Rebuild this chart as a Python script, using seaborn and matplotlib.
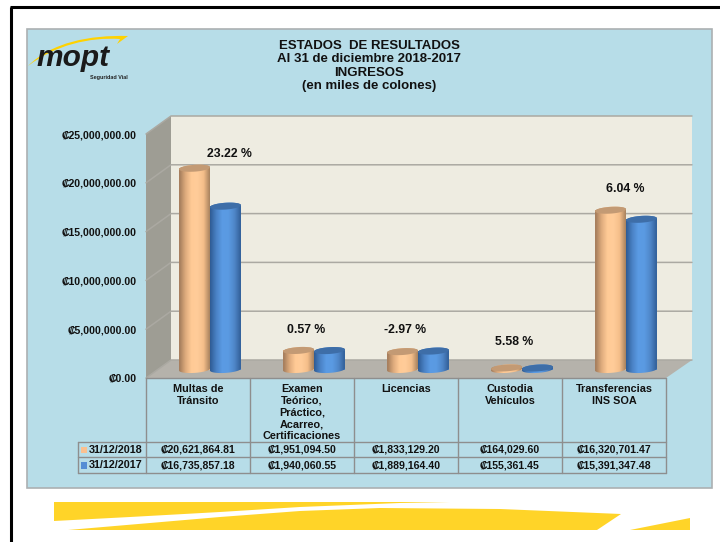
import matplotlib
matplotlib.use("Agg")
import matplotlib.pyplot as plt
import seaborn as sns
import pandas as pd
import numpy as np
from matplotlib.colors import LinearSegmentedColormap
from matplotlib.patches import Polygon, PathPatch, Rectangle
from matplotlib.path import Path

categories = ['Multas de\nTránsito', 'Examen\nTeórico,\nPráctico,\nAcarreo,\nCertificaciones',
              'Licencias', 'Custodia\nVehículos', 'Transferencias\nINS SOA']
values_2018 = [20621864.81, 1951094.50, 1833129.20, 164029.60, 16320701.47]
values_2017 = [16735857.18, 1940060.55, 1889164.40, 155361.45, 15391347.48]
labels_2018 = ['₡20,621,864.81', '₡1,951,094.50', '₡1,833,129.20', '₡164,029.60', '₡16,320,701.47']
labels_2017 = ['₡16,735,857.18', '₡1,940,060.55', '₡1,889,164.40', '₡155,361.45', '₡15,391,347.48']
series = ['31/12/2018', '31/12/2017']
pct_labels = ['23.22 %', '0.57 %', '-2.97 %', '5.58 %', '6.04 %']
y_ticks = [0, 5000000, 10000000, 15000000, 20000000, 25000000]
y_labels = ['₡0.00', '₡5,000,000.00', '₡10,000,000.00', '₡15,000,000.00', '₡20,000,000.00', '₡25,000,000.00']
title = 'ESTADOS  DE RESULTADOS\nAl 31 de diciembre 2018-2017\nINGRESOS\n(en miles de colones)'

W, H = 720, 542
INK = '#111111'
GRID = '#ABA9A2'
TABLE = '#8E8E8E'

sns.set_theme(style='white')
plt.rcParams['font.family'] = ['Liberation Sans', 'DejaVu Sans']
plt.rcParams['font.weight'] = 'bold'


def rect(x0, y0, x1, y1):
    return [x0 / W, 1 - y1 / H, (x1 - x0) / W, (y1 - y0) / H]


df = pd.DataFrame({
    'categoria': categories * 2,
    'periodo': [series[0]] * 5 + [series[1]] * 5,
    'valor': values_2018 + values_2017,
})

fig = plt.figure(figsize=(7.2, 5.42), dpi=100, facecolor='white')

# ------------------------
# Background, in pixel coordinates
# ------------------------
bg = fig.add_axes([0, 0, 1, 1], zorder=0)
bg.set_xlim(0, W)
bg.set_ylim(H, 0)
bg.axis('off')

bg.plot([11, 11], [7, H], color='black', lw=2.2, solid_capstyle='butt')
bg.plot([10, W], [7, 7], color='black', lw=2.2, solid_capstyle='butt')
bg.add_patch(Rectangle((27, 29), 685, 459, facecolor='#B7DDE8', edgecolor='#ABB0B2', lw=1.2))

# walls and floor of the 3D box
bg.add_patch(Polygon([(171, 116), (692, 116), (692, 360), (171, 360)], facecolor='#EEECE1', edgecolor='none'))
bg.add_patch(Polygon([(146, 134), (171, 116), (171, 360), (146, 378)], facecolor='#9E9D94', edgecolor='none'))
bg.add_patch(Polygon([(146, 378), (171, 360), (692, 360), (666, 378)], facecolor='#B5B2AB', edgecolor='none'))
for v in y_ticks:
    yb = 360 - v / 5000000 * 48.8
    bg.plot([146, 171, 692], [yb + 18, yb, yb], color=GRID, lw=1.1)

# table under the chart
col_x = [146, 250, 354, 458, 562, 666]
for x in col_x:
    bg.plot([x, x], [378, 472.5], color=TABLE, lw=1.0)
bg.plot([146, 666], [378, 378], color=TABLE, lw=1.0)
for y in [442, 457, 472.5]:
    bg.plot([77.5, 666], [y, y], color=TABLE, lw=1.0)
bg.plot([77.5, 77.5], [442, 472.5], color=TABLE, lw=1.0)

for row_y, row_labels, name, key in [(450, labels_2018, series[0], '#FAC090'), (465.5, labels_2017, series[1], '#558ED5')]:
    bg.add_patch(Rectangle((81, row_y - 3.5), 6, 6.5, facecolor=key, edgecolor='none'))
    bg.text(89, row_y, name, fontsize=7.8, color=INK, va='center', ha='left')
    for i, lab in enumerate(row_labels):
        bg.text((col_x[i] + col_x[i + 1]) / 2, row_y, lab, fontsize=7.6, color=INK, va='center', ha='center')

# title and percent labels
bg.text(369, 66, title, fontsize=9.5, color=INK, ha='center', va='center', linespacing=1.12)
pct_x = [229.5, 306, 405, 514, 625]
pct_y = [154, 330, 330, 342, 189]
for x, y, lab in zip(pct_x, pct_y, pct_labels):
    bg.text(x, y, lab, fontsize=8.8, color=INK, ha='center', va='center')

# logo
bg.text(73, 58, 'mopt', fontsize=21.5, style='italic', color='#1A1A1A', ha='center', va='center')
swoosh = Path([(28, 66), (52, 42), (90, 35), (128, 36), (117, 44), (120, 39), (90, 37), (55, 45), (28, 66)],
              [Path.MOVETO, Path.CURVE4, Path.CURVE4, Path.CURVE4, Path.LINETO, Path.LINETO,
               Path.CURVE4, Path.CURVE4, Path.CURVE4])
bg.add_patch(PathPatch(swoosh, facecolor='#FFD200', edgecolor='none', zorder=1.5))
bg.text(109, 77, 'Seguridad Vial', fontsize=3.9, color='#222222', ha='center', va='center')

# yellow band at the bottom
YEL = '#FFD428'
bg.add_patch(Polygon([(54, 502), (450, 502), (400, 503), (300, 507), (220, 512), (130, 517), (54, 521)],
                     facecolor=YEL, edgecolor='none'))
bg.add_patch(Polygon([(68, 530), (150, 523), (220, 517), (300, 511), (380, 508), (500, 509), (621, 514), (597, 530)],
                     facecolor=YEL, edgecolor='none'))
bg.add_patch(Polygon([(630, 530), (690, 518), (690, 530)], facecolor=YEL, edgecolor='none'))

# ------------------------
# Front plane: axis labels
# ------------------------
front = fig.add_axes(rect(146, 134, 666, 378), zorder=1)
front.patch.set_alpha(0)
front.set_xlim(-0.5, 4.5)
front.set_ylim(0, 25000000)
front.set_yticks(y_ticks)
front.set_yticklabels(y_labels, fontsize=7.6, color=INK)
front.set_xticks(range(5))
front.set_xticklabels(categories, fontsize=7.8, color=INK, va='top', linespacing=1.2)
front.tick_params(axis='y', length=0, pad=6.5)
front.tick_params(axis='x', length=0, pad=4.5)
for s in front.spines.values():
    s.set_visible(False)

# ------------------------
# Cylinders
# ------------------------
ax = fig.add_axes(rect(158, 125.5, 678, 379.26), zorder=2)
ax.patch.set_alpha(0)
sns.barplot(data=df, x='categoria', y='valor', hue='periodo', order=categories, hue_order=series,
            palette=['#FAC090', '#558ED5'], width=0.595, legend=False, ax=ax, saturation=1, linewidth=0)
ax.set_xlim(-0.5, 4.5)
ax.set_ylim(-1000000, 25000000)
ax.axis('off')

px_y = 5000000 / 48.8
t = np.linspace(0, 2 * np.pi, 80)
ramps = {
    '2018': (LinearSegmentedColormap.from_list('p', ['#A07A5A', '#DDAA7C', '#FFCA96', '#FFCC99', '#F5BE8A', '#A9835F']), '#C39A74'),
    '2017': (LinearSegmentedColormap.from_list('b', ['#2F5C94', '#4A82C6', '#5B9BE4', '#5A9AE2', '#4F86C8', '#325F98']), '#3E6EA8'),
}
grad = np.linspace(0, 1, 64).reshape(1, -1)
bars = list(ax.patches)
for i, bar in enumerate(bars):
    key = '2018' if i < 5 else '2017'
    cmap, cap = ramps[key]
    x0, w, top = bar.get_x(), bar.get_width(), bar.get_height()
    cx = x0 + w / 2
    a = w / 2
    b = 3.4 * px_y
    tilt = 1.0 * px_y

    def ring(yc, tt):
        return np.column_stack([cx + a * np.cos(tt), yc + b * np.sin(tt) + tilt * np.cos(tt)])

    body = np.vstack([ring(top, np.linspace(0, np.pi, 40)), ring(0, np.linspace(np.pi, 2 * np.pi, 40))])
    clip = Polygon(body, closed=True, transform=ax.transData)
    z = 3 + i % 5 * 0.01 + (i >= 5) * 0.1
    im = ax.imshow(grad, extent=[x0, x0 + w, -b - tilt, top + b + tilt], aspect='auto', cmap=cmap,
                   zorder=z, interpolation='bilinear')
    im.set_clip_path(clip)
    ax.add_patch(Polygon(ring(top, t), facecolor=cap, edgecolor='none', zorder=z + 0.005))
ax.set_xlim(-0.5, 4.5)
ax.set_ylim(-1000000, 25000000)

plt.savefig('out.png', dpi=100)
plt.close()
